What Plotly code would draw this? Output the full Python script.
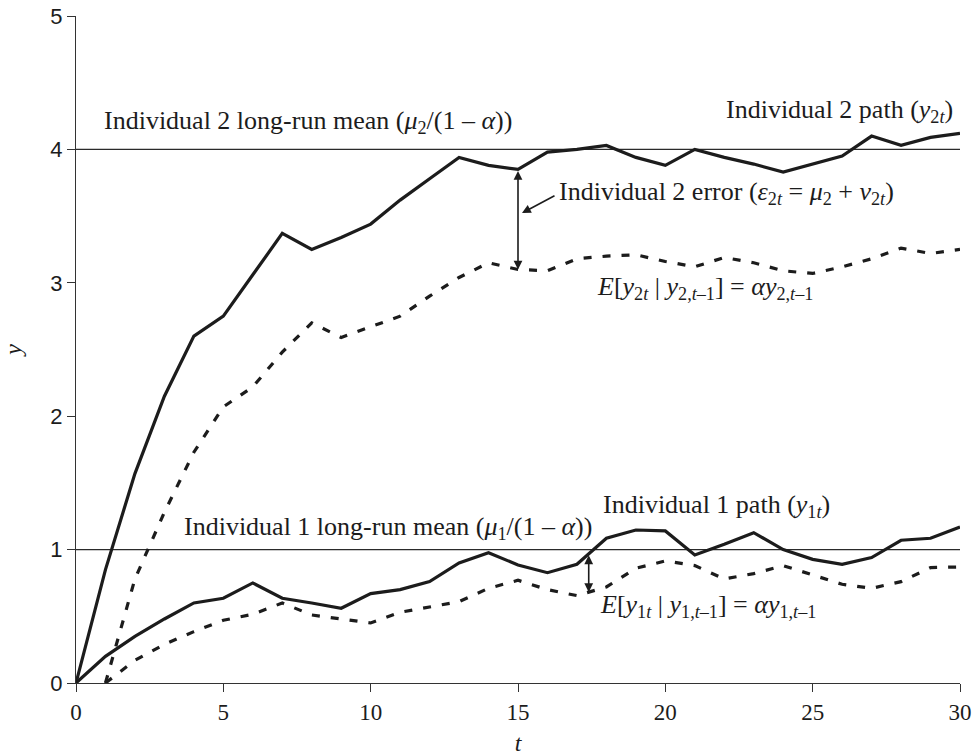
import numpy as np
import plotly.graph_objects as go

# ---------------- data ----------------
t = list(range(0, 31))
y2_path = [0, 0.85, 1.57, 2.15, 2.60, 2.75, 3.06, 3.37, 3.25, 3.34, 3.44, 3.62, 3.78, 3.94, 3.88,
           3.85, 3.98, 4.00, 4.03, 3.94, 3.88, 4.00, 3.94, 3.89, 3.83, 3.89, 3.95, 4.10, 4.03, 4.09, 4.12]
t_exp = list(range(1, 31))
y2_expected = [0, 0.78, 1.28, 1.73, 2.07, 2.22, 2.48, 2.70, 2.59, 2.67, 2.75, 2.90, 3.04, 3.15,
               3.10, 3.09, 3.18, 3.20, 3.21, 3.16, 3.12, 3.19, 3.15, 3.09, 3.07, 3.12, 3.18, 3.26, 3.22, 3.25]
y1_path = [0, 0.20, 0.35, 0.48, 0.60, 0.635, 0.75, 0.635, 0.60, 0.56, 0.67, 0.70, 0.76, 0.90, 0.977,
           0.885, 0.827, 0.89, 1.085, 1.147, 1.14, 0.96, 1.04, 1.127, 1.0, 0.927, 0.89, 0.94, 1.07, 1.085, 1.17]
y1_expected = [0, 0.17, 0.29, 0.385, 0.47, 0.515, 0.60, 0.51, 0.48, 0.45, 0.53, 0.57, 0.61, 0.71,
               0.77, 0.70, 0.655, 0.72, 0.86, 0.915, 0.88, 0.78, 0.82, 0.88, 0.81, 0.74, 0.71, 0.76, 0.865, 0.87]
long_run_means = [1, 4]
x_ticks = [0, 5, 10, 15, 20, 25, 30]
y_ticks = [0, 1, 2, 3, 4, 5]
error2_t = 15
error1_t = 17.4

INK = "#1c1c1c"
SERIF = "Liberation Serif, Times New Roman, serif"
SANS = "Liberation Sans, Arial, sans-serif"

fig = go.Figure()

for m in long_run_means:
    fig.add_trace(go.Scatter(x=[t[0], t[-1]], y=[m, m], mode="lines",
                             line=dict(color="#2a2a2a", width=1.4), hoverinfo="skip"))

for xs, ys, dash in [(t, y2_path, "solid"), (t_exp, y2_expected, "8px,11px"),
                     (t, y1_path, "solid"), (t_exp, y1_expected, "8px,11px")]:
    fig.add_trace(go.Scatter(x=xs, y=ys, mode="lines",
                             line=dict(color=INK, width=3.2, dash=dash)))

# ---------------- layout geometry helpers ----------------
W, H = 977, 756
ML, MR, MT, MB = 76, 17, 16, 73
X0, X1, Y0, Y1 = 0, 30, 0, 5
pw, ph = W - ML - MR, H - MT - MB


def dx(px):  # screen px -> data x
    return X0 + (px - ML) / pw * (X1 - X0)


def dy(py):  # screen px -> data y
    return Y1 - (py - MT) / ph * (Y1 - Y0)


labels = [
    ("Individual 2 long-run mean (<i>μ</i><sub>2</sub>/(1 – <i>α</i>))", 102, 122),
    ("Individual 2 path (<i>y</i><sub>2<i>t</i></sub>)", 724, 111),
    ("Individual 2 error (<i>ε</i><sub>2<i>t</i></sub> = <i>μ</i><sub>2</sub> + <i>v</i><sub>2<i>t</i></sub>)", 557, 193),
    ("<i>E</i>[<i>y</i><sub>2<i>t</i></sub> | <i>y</i><sub>2,<i>t</i>–1</sub>] = <i>αy</i><sub>2,<i>t</i>–1</sub>", 595, 288),
    ("Individual 1 long-run mean (<i>μ</i><sub>1</sub>/(1 – <i>α</i>))", 182, 528),
    ("Individual 1 path (<i>y</i><sub>1<i>t</i></sub>)", 601, 506),
    ("<i>E</i>[<i>y</i><sub>1<i>t</i></sub> | <i>y</i><sub>1,<i>t</i>–1</sub>] = <i>αy</i><sub>1,<i>t</i>–1</sub>", 598, 606),
]
annotations = []
for text, px, py in labels:
    annotations.append(dict(x=dx(px), y=dy(py), xref="x", yref="y", text=text, showarrow=False,
                            xanchor="left", yanchor="middle",
                            font=dict(family=SERIF, size=26, color=INK)))

# double-headed error arrows
i2 = t.index(error2_t)
e2_val = float(np.interp(error2_t, t_exp, y2_expected))
annotations.append(dict(x=error2_t, y=e2_val, ax=error2_t, ay=y2_path[i2], xref="x", yref="y",
                        axref="x", ayref="y", text="", showarrow=True, arrowside="end+start",
                        arrowhead=2, startarrowhead=2, arrowsize=1.1, startarrowsize=1.1,
                        arrowwidth=1.6, arrowcolor=INK, standoff=0, startstandoff=0))
p1 = float(np.interp(error1_t, t, y1_path))
e1 = float(np.interp(error1_t, t_exp, y1_expected))
annotations.append(dict(x=error1_t, y=e1, ax=error1_t, ay=p1, xref="x", yref="y",
                        axref="x", ayref="y", text="", showarrow=True, arrowside="end+start",
                        arrowhead=2, startarrowhead=2, arrowsize=1.1, startarrowsize=1.1,
                        arrowwidth=1.6, arrowcolor=INK, standoff=0, startstandoff=0))
# pointer from error label to the arrow
annotations.append(dict(x=dx(522), y=dy(213), ax=dx(556), ay=dy(195), xref="x", yref="y",
                        axref="x", ayref="y", text="", showarrow=True, arrowhead=2,
                        arrowsize=1.1, arrowwidth=1.6, arrowcolor=INK, standoff=0))

fig.update_layout(
    width=W, height=H, margin=dict(l=ML, r=MR, t=MT, b=MB, autoexpand=False),
    paper_bgcolor="white", plot_bgcolor="white", showlegend=False,
    annotations=annotations,
    xaxis=dict(range=[X0, X1], tickvals=x_ticks, ticks="outside", ticklen=8, tickwidth=1.2,
               tickcolor="#333", showline=True, linecolor="#333", linewidth=1.4,
               showgrid=False, zeroline=False, automargin=False, ticklabeloverflow="allow",
               tickfont=dict(family=SERIF, size=23, color=INK),
               title=dict(text="<i>t</i>", font=dict(family=SERIF, size=24, color=INK), standoff=12)),
    yaxis=dict(range=[Y0, Y1], tickvals=y_ticks, ticks="outside", ticklen=8, tickwidth=1.2,
               tickcolor="#333", showline=True, linecolor="#333", linewidth=1.4,
               showgrid=False, zeroline=False, automargin=False, ticklabeloverflow="allow",
               tickfont=dict(family=SANS, size=22, color=INK),
               title=dict(text="<i>y</i>", font=dict(family=SERIF, size=24, color=INK), standoff=27)),
)

fig.write_html("out.html", config={"displayModeBar": False},
               post_script="document.body.style.margin='0';document.body.style.overflow='hidden';")
